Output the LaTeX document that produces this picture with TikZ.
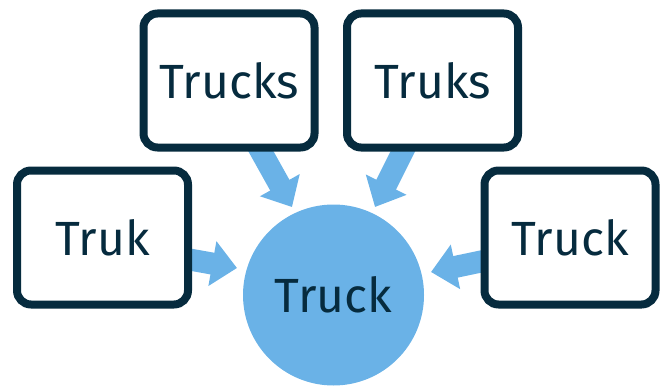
\documentclass[tikz,border=0pt]{standalone}
\usepackage{fontspec}
\setmainfont{Fira Sans}
\usetikzlibrary{arrows.meta}
\definecolor{navy}{HTML}{062B3E}
\definecolor{skyblue}{HTML}{6AB2E7}
\tikzset{
  wordbox/.style={draw=navy, line width=8pt, fill=white, rounded corners=14pt,
    minimum width=171pt, minimum height=134pt, inner sep=0pt,
    font=\fontsize{48}{52}\selectfont, text=navy},
  hub/.style={circle, fill=skyblue, minimum size=181pt, inner sep=0pt,
    font=\fontsize{48}{52}\selectfont, text=navy},
  fatarrow/.style={draw=skyblue, line width=22pt,
    -{Triangle[width=44pt,length=25pt]}}
}
\begin{document}
\begin{tikzpicture}[x=1pt,y=-1pt]
\useasboundingbox (0,0) rectangle (660,385);
% connector ends
\coordinate (s1) at (170,256);
\coordinate (e1) at (237,268);
\coordinate (s2) at (249,130);
\coordinate (e2) at (292,207);
\coordinate (s3) at (413.5,130);
\coordinate (e3) at (375,207);
\coordinate (s4) at (500,257.5);
\coordinate (e4) at (431,272);
% hub
\node[hub] (truck) at (333.5,295) {Truck};
% arrows (behind boxes)
\draw[fatarrow] (s1) -- (e1);
\draw[fatarrow] (s2) -- (e2);
\draw[fatarrow] (s3) -- (e3);
\draw[fatarrow] (s4) -- (e4);
% boxes
\node[wordbox] (truk) at (102.5,237.5) {Truk};
\node[wordbox] (trucks) at (229,80.5) {Trucks};
\node[wordbox] (truks) at (432.5,80.5) {Truks};
\node[wordbox] (truckr) at (570,237.5) {Truck};
\end{tikzpicture}
\end{document}
